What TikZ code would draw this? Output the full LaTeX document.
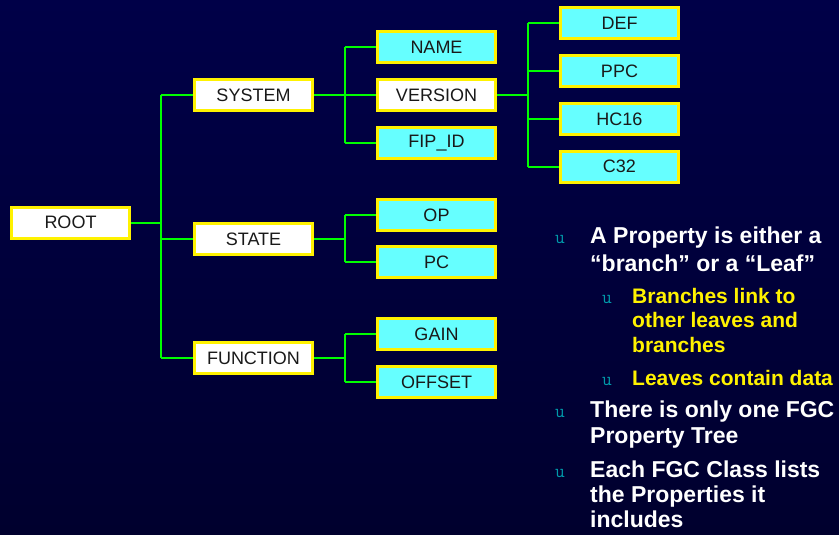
\documentclass[tikz,border=0pt]{standalone}
\usepackage{fontspec}
\setmainfont{Liberation Sans}
\usepackage{tikz}

\definecolor{bgtop}{RGB}{0,0,72}
\definecolor{bgmid}{RGB}{0,0,102}
\definecolor{bgbot}{RGB}{0,0,46}
\definecolor{leafcyan}{RGB}{102,255,255}
\definecolor{dotteal}{RGB}{0,153,170}

\tikzset{
  branchbox/.style={draw=yellow, line width=3pt, fill=white, minimum width=118pt,
    minimum height=31pt, inner sep=0pt, text=black!90, font=\fontsize{18}{18}\selectfont},
  leafbox/.style={branchbox, fill=leafcyan},
  link/.style={draw=green, line width=2pt},
  mainline/.style={anchor=base west, inner sep=0pt, text=white,
    font=\bfseries\fontsize{23}{23}\selectfont},
  subline/.style={mainline, text=yellow, font=\bfseries\fontsize{21}{21}\selectfont},
  dot/.style={anchor=base west, inner sep=0pt, text=dotteal, font=\ttfamily\fontsize{19}{19}\selectfont}
}

\begin{document}
\begin{tikzpicture}[x=1pt, y=-1pt]

% Background
\useasboundingbox (0,0) rectangle (839,535);
\shade[top color=bgtop, middle color=bgmid, bottom color=bgbot] (0,0) rectangle (839,535);

% Branch boxes
\node[branchbox] (root) at (70.5,222.5) {ROOT};
\node[branchbox] (system) at (253.5,95) {SYSTEM};
\node[branchbox] (state) at (253.5,239) {STATE};
\node[branchbox] (function) at (253.5,358) {FUNCTION};
\node[branchbox] (version) at (436.5,95) {VERSION};

% Leaf boxes
\node[leafbox] (name) at (436.5,47) {NAME};
\node[leafbox] (fipid) at (436.5,143) {FIP\_ID};
\node[leafbox] (op) at (436.5,215) {OP};
\node[leafbox] (pc) at (436.5,262) {PC};
\node[leafbox] (gain) at (436.5,334) {GAIN};
\node[leafbox] (offset) at (436.5,382) {OFFSET};
\node[leafbox] (def) at (619.5,23.5) {DEF};
\node[leafbox] (ppc) at (619.5,71) {PPC};
\node[leafbox] (hc16) at (619.5,119) {HC16};
\node[leafbox] (c32) at (619.5,166.5) {C32};

% Trunks
\coordinate (t0) at (161,0);
\coordinate (t1) at (345,0);
\coordinate (t2) at (528,0);

% Root to first level
\draw[link] (root) -- (root -| t0);
\draw[link] (system.west -| t0) -- (function.west -| t0);
\foreach \n in {system,state,function}
  \draw[link] (\n.west -| t0) -- (\n);

% Second level
\draw[link] (name.west -| t1) -- (fipid.west -| t1);
\draw[link] (op.west -| t1) -- (pc.west -| t1);
\draw[link] (gain.west -| t1) -- (offset.west -| t1);
\draw[link] (system) -- (version);
\draw[link] (state) -- (state -| t1);
\draw[link] (function) -- (function -| t1);
\foreach \n in {name,fipid,op,pc,gain,offset}
  \draw[link] (\n.west -| t1) -- (\n);

% Version values
\draw[link] (version) -- (version -| t2);
\draw[link] (def.west -| t2) -- (c32.west -| t2);
\foreach \n in {def,ppc,hc16,c32}
  \draw[link] (\n.west -| t2) -- (\n);

% Bullets
\node[dot] (u1) at (555,243) {u};
\node[dot] (u2) at (602,303) {u};
\node[dot] (u3) at (602,385) {u};
\node[dot] (u4) at (555,417.5) {u};
\node[dot] (u5) at (555,477) {u};

% Bullet text, one line each
\node[mainline] (p1a) at (590,243) {A Property is either a};
\node[mainline] (p1b) at (590,271) {“branch” or a “Leaf”};
\node[subline] (p2a) at (632,303) {Branches link to};
\node[subline] (p2b) at (632,327.5) {other leaves and};
\node[subline] (p2c) at (632,352) {branches};
\node[subline] (p3a) at (632,385) {Leaves contain data};
\node[mainline] (p4a) at (590,417.5) {There is only one FGC};
\node[mainline] (p4b) at (590,443.5) {Property Tree};
\node[mainline] (p5a) at (590,477) {Each FGC Class lists};
\node[mainline] (p5b) at (590,502) {the Properties it};
\node[mainline] (p5c) at (590,527) {includes};

\end{tikzpicture}
\end{document}
